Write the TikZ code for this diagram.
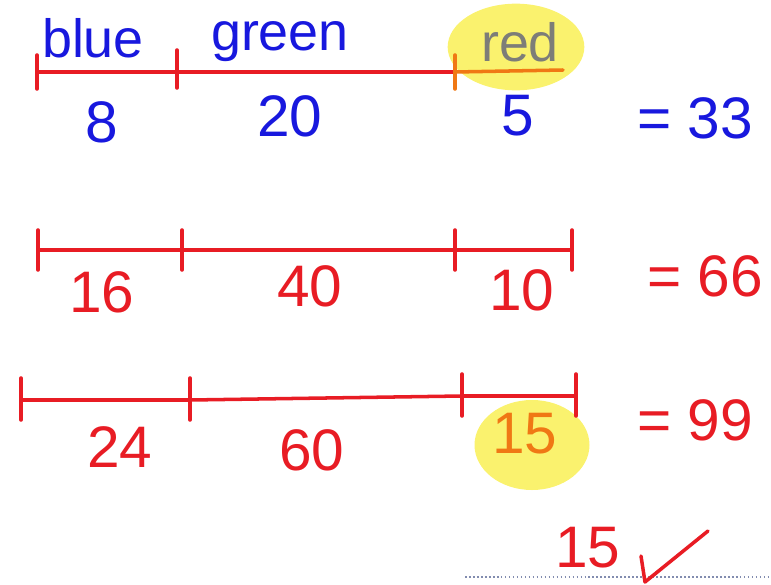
\documentclass[tikz,border=0pt]{standalone}
\usepackage{fontspec}
\setmainfont{Liberation Sans}
\usetikzlibrary{shapes.geometric, positioning, calc}
\definecolor{mred}  {RGB}{232, 28, 36}
\definecolor{mblue} {RGB}{ 24, 24,222}
\definecolor{morng} {RGB}{240,120, 20}
\definecolor{mgray} {RGB}{125,125,120}
\definecolor{hlyel} {RGB}{250,242,110}
\definecolor{dotc}  {RGB}{130,140,175}
\tikzset{
  % Red bar
  Bar/.style={draw=mred,line width=3pt,line cap=round},
  % Tick mark on a bar
  Tick/.style={draw=mred,line width=3pt,line cap=round},
  % Yellow highlighter blob
  HL/.style={ellipse,fill=hlyel,draw=none,minimum width=#1},
  HL/.default=4cm,
  % Handwritten number
  Num/.style={font=\fontsize{50}{50}\selectfont,text=#1,inner sep=0pt},
  Num/.default=mred,
  % Handwritten word
  Word/.style={font=\fontsize{46}{46}\selectfont,text=#1,inner sep=0pt},
  Word/.default=mblue,
}
\begin{document}
\begin{tikzpicture}[x=0.03cm,y=-0.03cm]
  \useasboundingbox (0,0) rectangle (771,585);
  % highlights first
  \node[HL=4.1cm,minimum height=2.6cm] at (516,47) (hlA) {};
  \node[HL=3.45cm,minimum height=2.7cm] at (532,445) (hlB) {};
  % first bar
  \coordinate (a0) at (37,72);
  \coordinate (a1) at (177,72);
  \coordinate (a2) at (455,72);
  \coordinate (a3) at (563,70);
  \draw[Bar] (a0) -- (a1) -- (a2);
  \draw[Bar,draw=morng] (a2) -- (a3);
  \draw[Tick] (a0) ++(0,-17) -- ++(0,34);
  \draw[Tick] (a1) ++(0,-22) -- ++(0,38);
  \draw[Tick,draw=morng] (a2) ++(0,-17) -- ++(0,34);
  \node[Word] at (93,38) (wblue) {blue};
  \node[Word] at (280,42) (wgreen) {green};
  \node[Word=mgray] at (520,42) (wred) {red};
  \node[Num=mblue] at (102,122) (nA1) {8};
  \node[Num=mblue] at (290,116) (nA2) {20};
  \node[Num=mblue] at (518,116) (nA3) {5};
  \node[Num=mblue] at (695,118) (sumA) {= 33};
  % second bar
  \coordinate (b0) at (38,250);
  \coordinate (b1) at (182,250);
  \coordinate (b2) at (455,250);
  \coordinate (b3) at (572,250);
  \draw[Bar] (b0) -- (b1) -- (b2) -- (b3);
  \foreach \t in {b0,b1,b2,b3}
    \draw[Tick] (\t) ++(0,-20) -- ++(0,40);
  \node[Num] at (102,292) (nB1) {16};
  \node[Num] at (310,286) (nB2) {40};
  \node[Num] at (522,290) (nB3) {10};
  \node[Num] at (705,276) (sumB) {= 66};
  % third bar
  \coordinate (c0) at (21,400);
  \coordinate (c1) at (190,400);
  \coordinate (c2) at (462,396);
  \coordinate (c3) at (576,396);
  \draw[Bar] (c0) -- (c1) -- (c2) -- (c3);
  \foreach \t in {c0,c1,c2,c3}
    \draw[Tick] (\t) ++(0,-22) -- ++(0,42);
  \node[Num] at (120,447) (nC1) {24};
  \node[Num] at (312,450) (nC2) {60};
  \node[Num=morng] at (525,434) (nC3) {15};
  \node[Num] at (695,420) (sumC) {= 99};
  % answer
  \draw[dotc,line width=1.4pt,dotted] (465,577) -- (771,577);
  \node[Num] at (588,548) (ans) {15};
  \draw[mred,line width=3pt,line cap=round,line join=round]
    (641,556) -- (645,582) -- (708,531);
\end{tikzpicture}
\end{document}
